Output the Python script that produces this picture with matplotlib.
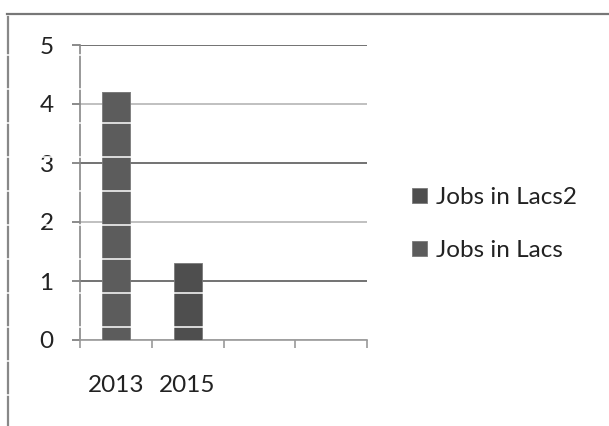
import matplotlib.pyplot as plt
import numpy as np
from matplotlib.lines import Line2D

plt.rcParams['font.family'] = ['Lato', 'DejaVu Sans']

years = ['2013', '2015', '', '']
jobs_in_lacs = [4.2, 0, 0, 0]
jobs_in_lacs2 = [0, 1.3, 0, 0]
y_ticks = [0, 1, 2, 3, 4, 5]

W, H = 609, 426
fig = plt.figure(figsize=(W / 100, H / 100), dpi=100)
ax = fig.add_axes([80 / W, 86 / H, 287 / W, 295 / H])

x = np.arange(len(years)) + 0.5
ax.bar(x, jobs_in_lacs, width=0.39, color='#5c5c5c', edgecolor='#7a7a7a',
       linewidth=0.6, label='Jobs in Lacs', zorder=3)
ax.bar(x, jobs_in_lacs2, width=0.39, bottom=jobs_in_lacs, color='#4e4e4e',
       edgecolor='#7a7a7a', linewidth=0.6, label='Jobs in Lacs2', zorder=3)

ax.set_xlim(0, len(years))
ax.set_ylim(0, 5)
ax.set_yticks(y_ticks)
ax.set_xticks(x)
ax.set_xticklabels(years)
ax.set_xticks(np.arange(len(years) + 1), minor=True)

ax.tick_params(axis='y', labelsize=17.5, length=6, width=1.2, color='#777777',
               pad=13, labelcolor='#222222')
ax.tick_params(axis='x', which='major', length=0, pad=25, labelsize=17.5,
               labelcolor='#222222')
ax.tick_params(axis='x', which='minor', length=6, width=1.2, color='#999999')

for side in ('top', 'right'):
    ax.spines[side].set_visible(False)
ax.spines['left'].set_color('#888888')
ax.spines['left'].set_linewidth(1.2)
ax.spines['bottom'].set_color('#9a9a9a')
ax.spines['bottom'].set_linewidth(1.2)

# horizontal gridlines, alternating dark/light
ax.yaxis.grid(True, linewidth=1.2, zorder=1)
ax.set_axisbelow(True)
for val, gl in zip(y_ticks, ax.get_ygridlines()):
    gl.set_color('#5a5a5a' if val % 2 == 1 else '#b5b5b5')

handles, labels = ax.get_legend_handles_labels()
ax.legend(handles[::-1], labels[::-1], loc='center left',
          bbox_to_anchor=(400 / W, 1 - 224 / H), bbox_transform=fig.transFigure,
          frameon=False, fontsize=17.5, handlelength=0.6, handleheight=0.6,
          handletextpad=0.4, labelspacing=1.3, borderpad=0,
          labelcolor='#222222')

# outer frame
fig.add_artist(Line2D([7 / W, 1], [1 - 14 / H, 1 - 14 / H], color='#777777', lw=1.6))
fig.add_artist(Line2D([8 / W, 8 / W], [1 - 17 / H, 0], color='#888888', lw=1.6))

# faint white streaks across the left part
for yp in np.arange(55, 396, 34):
    fig.add_artist(Line2D([0, 375 / W], [1 - yp / H, 1 - yp / H],
                          color='white', lw=1.1, zorder=10))

fig.savefig('out.png', dpi=100)
